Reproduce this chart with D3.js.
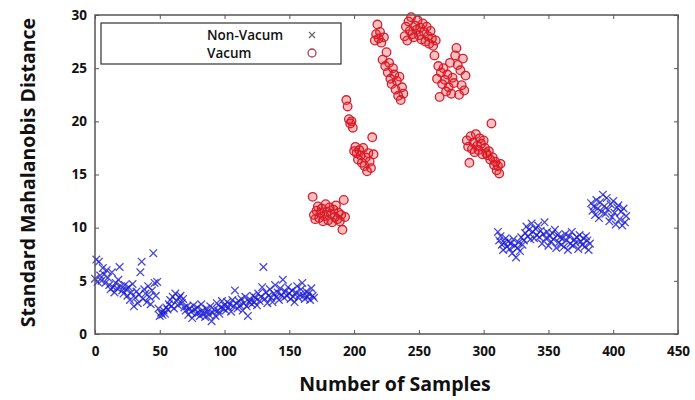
<!DOCTYPE html>
<html>
<head>
<meta charset="utf-8">
<script src="https://cdn.jsdelivr.net/npm/d3@7"></script>
<style>
  body { margin: 0; background: #fff; }
  text { font-family: "Open Sans", "Liberation Sans", Arial, sans-serif; }
</style>
</head>
<body>
<svg id="chart" width="695" height="400"></svg>
<script>
// first Non-Vacum run, samples 0..169
const nonVacumStartA = 0;
const nonVacumA = [
  5.2, 7.0, 4.9, 6.8, 5.5, 5.0, 6.2, 5.6, 4.8, 6.0,
  5.3, 4.6, 4.2, 5.8, 4.4, 3.9, 4.8, 4.3, 5.1, 6.3,
  4.5, 4.1, 3.8, 4.6, 4.2, 3.6, 4.4, 3.2, 3.9, 4.7,
  2.6, 3.4, 4.0, 2.9, 3.7, 5.8, 6.8, 3.3, 4.2, 3.8,
  3.0, 4.5, 3.5, 2.8, 4.1, 7.6, 4.8, 3.6, 4.9, 2.4,
  1.7, 2.0, 1.8, 2.2, 1.9, 2.5, 2.3, 2.8, 3.2, 2.6,
  3.5, 2.4, 3.8, 3.1, 2.7, 3.4, 3.6, 2.9, 3.3, 2.5,
  2.2, 2.6, 1.8, 2.4, 2.1, 1.5, 2.7, 2.3, 1.9, 2.5,
  2.0, 1.7, 2.8, 2.2, 1.9, 1.6, 2.4, 2.1, 1.8, 2.6,
  1.2, 2.0, 2.3, 1.7, 2.9, 2.2, 1.9, 2.5, 3.1, 2.4,
  2.7, 2.2, 3.0, 2.5, 2.8, 2.1, 3.2, 2.6, 4.1, 2.9,
  2.4, 3.1, 2.7, 3.3, 2.2, 2.9, 3.5, 2.6, 1.7, 3.0,
  3.2, 2.8, 3.6, 3.0, 3.4, 2.7, 3.8, 3.1, 3.5, 4.4,
  6.3, 3.3, 3.9, 2.9, 3.6, 4.2, 3.4, 3.0, 3.8, 4.6,
  3.5, 3.9, 3.2, 4.3, 3.7, 5.1, 3.4, 4.0, 3.6, 4.4,
  3.8, 3.3, 4.1, 3.5, 3.0, 3.9, 4.5, 3.4, 3.7, 4.2,
  4.8, 3.6, 3.3, 4.0, 3.5, 3.8, 3.2, 4.3, 3.6, 3.4
];

// Vacum run, samples 168..313
const vacumStart = 168;
const vacum = [
  12.9, 11.2, 10.8, 11.6, 12.0, 10.9, 11.4, 11.8, 10.6, 11.1,
  12.2, 11.5, 10.7, 11.9, 11.3, 10.5, 11.7, 11.0, 12.1, 10.8,
  11.4, 10.6, 11.2, 9.8, 12.6, 11.0, 22.0, 21.4, 20.2, 19.8,
  20.0, 19.4, 17.2, 17.6, 17.0, 16.4, 17.3, 16.8, 16.1, 17.5,
  15.8, 16.6, 15.3, 17.0, 16.2, 15.6, 18.5, 16.9, 27.6, 28.2,
  29.1, 27.8, 28.4, 27.4, 25.8, 27.9, 25.2, 26.5, 24.6, 25.5,
  24.0, 23.5, 25.0, 24.4, 23.0, 23.8, 22.4, 24.2, 22.0, 23.2,
  22.6, 28.0, 28.9, 27.6, 29.4, 28.5, 29.8, 28.2, 27.9, 29.0,
  28.6, 29.5, 28.1, 28.8, 27.7, 29.2, 28.4, 27.5, 28.9, 28.0,
  27.3, 28.5, 27.8, 27.1, 26.2, 27.6, 24.0, 25.2, 22.3, 24.6,
  23.5, 25.0, 23.9, 22.8, 24.4, 23.2, 25.5, 22.6, 24.1, 23.6,
  26.2, 26.9, 25.3, 22.5, 24.8, 23.4, 25.9, 22.9, 24.3, 18.2,
  17.6, 16.1, 18.6, 17.4, 18.0, 17.1, 18.8, 17.7, 17.3, 18.4,
  17.9, 16.9, 18.2, 17.5, 17.0, 16.8, 17.2, 16.4, 19.8, 16.6,
  15.9, 16.2, 15.4, 15.8, 15.1, 16.0
];

// second Non-Vacum run, samples 311..410
const nonVacumStartB = 311;
const nonVacumB = [
  9.6, 8.8, 9.2, 8.4, 7.9, 8.6, 9.0, 8.2, 8.7, 8.0,
  8.5, 7.6, 8.9, 8.3, 7.2, 8.1, 8.6, 7.8, 9.1, 8.4,
  8.8, 9.5, 10.1, 9.2, 9.8, 8.9, 10.4, 9.6, 9.0, 9.9,
  9.3, 10.2, 9.1, 9.7, 8.5, 9.4, 10.5, 9.0, 9.6, 8.3,
  9.2, 8.7, 9.5, 8.9, 9.8, 8.1, 9.3, 8.6, 9.1, 8.4,
  9.0, 8.2, 9.4, 8.8, 7.9, 9.2, 8.5, 9.6, 8.3, 8.9,
  8.6, 9.1, 8.0, 9.3, 8.7, 8.4, 9.0, 8.2, 9.2, 8.8,
  7.9, 8.5, 12.3, 11.6, 12.0, 11.2, 12.6, 11.8, 10.9, 12.4,
  11.5, 13.1, 12.0, 11.3, 12.8, 11.7, 10.6, 12.2, 11.0, 12.5,
  11.4, 10.3, 11.9, 12.1, 10.8, 11.5, 10.2, 11.8, 10.5, 11.1
];

const xTicks = [0, 50, 100, 150, 200, 250, 300, 350, 400, 450];
const yTicks = [0, 5, 10, 15, 20, 25, 30];
const legendLabels = ["Non-Vacum", "Vacum"];

const svg = d3.select("#chart");
const plotLeft = 95, plotRight = 678, plotTop = 15, plotBottom = 334;

const x = d3.scaleLinear().domain([0, 450]).range([plotLeft, plotRight]);
const y = d3.scaleLinear().domain([0, 30]).range([plotBottom, plotTop]);

const toPoints = (start, vals) => vals.map((v, i) => ({ s: start + i, v }));
const blue = toPoints(nonVacumStartA, nonVacumA).concat(toPoints(nonVacumStartB, nonVacumB));
const red = toPoints(vacumStart, vacum);

// marks
const cross = 3.8;
svg.append("g").selectAll("path")
  .data(blue).enter().append("path")
  .attr("d", d => {
    const cx = x(d.s), cy = y(d.v);
    return `M${cx - cross},${cy - cross}L${cx + cross},${cy + cross}M${cx - cross},${cy + cross}L${cx + cross},${cy - cross}`;
  })
  .attr("stroke", "#1c1cd0")
  .attr("stroke-width", 1.3)
  .attr("stroke-opacity", 0.8)
  .attr("fill", "none");

svg.append("g").selectAll("circle")
  .data(red).enter().append("circle")
  .attr("cx", d => x(d.s))
  .attr("cy", d => y(d.v))
  .attr("r", 4.3)
  .attr("fill", "rgba(255,0,0,0.25)")
  .attr("stroke", "#d02030")
  .attr("stroke-width", 1.3);

// frame
svg.append("rect")
  .attr("x", plotLeft).attr("y", plotTop)
  .attr("width", plotRight - plotLeft).attr("height", plotBottom - plotTop)
  .attr("fill", "none").attr("stroke", "#555").attr("stroke-width", 1.5);

// axes with inward ticks
const axisStyle = g => {
  g.select(".domain").remove();
  g.selectAll(".tick line").attr("stroke", "#555");
  g.selectAll(".tick text")
    .attr("font-family", "'DejaVu Sans', sans-serif")
    .attr("font-size", 13.5).attr("font-weight", "bold").attr("fill", "#111");
};

svg.append("g").attr("transform", `translate(0,${plotBottom})`)
  .call(d3.axisBottom(x).tickValues(xTicks).tickSize(-4).tickPadding(12))
  .call(axisStyle);
svg.append("g").attr("transform", `translate(0,${plotTop})`)
  .call(d3.axisTop(x).tickValues(xTicks).tickSize(-4).tickFormat(""))
  .call(axisStyle);
svg.append("g").attr("transform", `translate(${plotLeft},0)`)
  .call(d3.axisLeft(y).tickValues(yTicks).tickSize(-4).tickPadding(8))
  .call(axisStyle);
svg.append("g").attr("transform", `translate(${plotRight},0)`)
  .call(d3.axisRight(y).tickValues(yTicks).tickSize(-4).tickFormat(""))
  .call(axisStyle);

// axis titles
svg.append("text")
  .attr("x", 395).attr("y", 391)
  .attr("text-anchor", "middle")
  .attr("font-size", 19.5).attr("font-weight", "bold").attr("fill", "#111")
  .text("Number of Samples");

svg.append("text")
  .attr("transform", `translate(35,${(plotTop + plotBottom) / 2 - 2}) rotate(-90)`)
  .attr("text-anchor", "middle")
  .attr("font-size", 19.5).attr("font-weight", "bold").attr("fill", "#111")
  .text("Standard Mahalanobis Distance");

// legend
const lg = svg.append("g");
lg.append("rect")
  .attr("x", 101).attr("y", 23).attr("width", 240).attr("height", 41)
  .attr("fill", "#fff").attr("stroke", "#333").attr("stroke-width", 1.2);

lg.selectAll("text.lab")
  .data(legendLabels).enter().append("text")
  .attr("class", "lab")
  .attr("x", 207).attr("y", (d, i) => 40 + i * 18)
  .attr("font-size", 13.5).attr("font-weight", 600).attr("fill", "#111")
  .text(d => d);

lg.append("path")
  .attr("d", "M309,32L315,38M309,38L315,32")
  .attr("stroke", "#666").attr("stroke-width", 1.2);
lg.append("circle")
  .attr("cx", 312).attr("cy", 53).attr("r", 4)
  .attr("fill", "none").attr("stroke", "#b04050").attr("stroke-width", 1.3);
</script>
</body>
</html>
